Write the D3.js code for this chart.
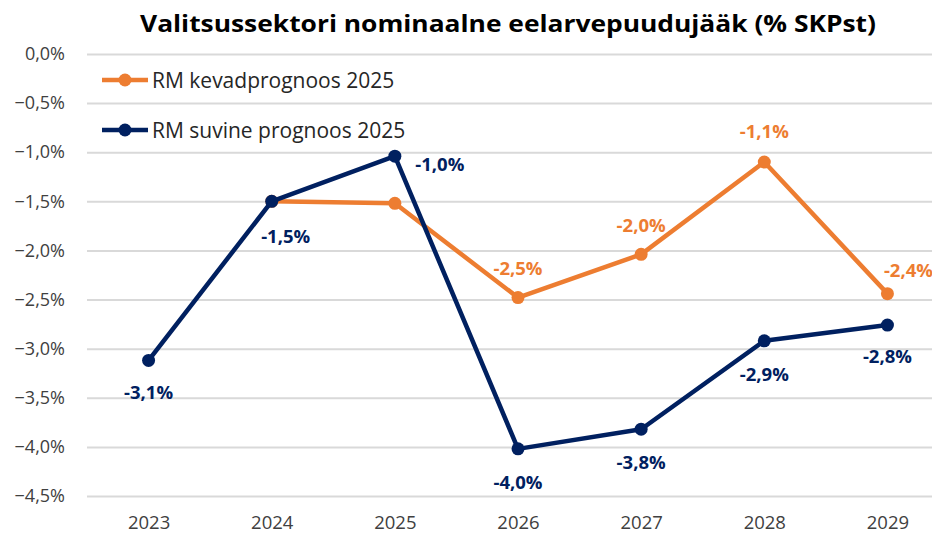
<!DOCTYPE html>
<html>
<head>
<meta charset="utf-8">
<script src="https://cdn.jsdelivr.net/npm/d3@7"></script>
<style>
  body { margin: 0; background: #fff; }
  svg { display: block; font-family: "Open Sans", "Noto Sans", sans-serif; }
</style>
</head>
<body>
<div id="chart"></div>
<script>
/* CONSTANTS AND GLOBALS */
const width = 932,
  height = 535,
  margin = { top: 54, bottom: 39, left: 87, right: -17 };

const years = [2023, 2024, 2025, 2026, 2027, 2028, 2029];
const yTicks = [0, -0.5, -1, -1.5, -2, -2.5, -3, -3.5, -4, -4.5];

// RM kevadprognoos 2025 (no 2023 value)
const spring = [null, -1.50, -1.52, -2.48, -2.04, -1.10, -2.44];
const springLabels = [null, null, null, "-2,5%", "-2,0%", "-1,1%", "-2,4%"];
// RM suvine prognoos 2025
const summer = [-3.12, -1.50, -1.04, -4.02, -3.82, -2.92, -2.76];
const summerLabels = ["-3,1%", "-1,5%", "-1,0%", "-4,0%", "-3,8%", "-2,9%", "-2,8%"];

const seriesNames = ["RM kevadprognoos 2025", "RM suvine prognoos 2025"];
const colors = ["#ED7D31", "#002060"];

const svg = d3.select("#chart")
  .append("svg")
  .attr("width", width)
  .attr("height", height);

// scales
const xScale = d3.scalePoint()
  .domain(years)
  .range([margin.left, width - margin.right])
  .padding(0.5);

const yScale = d3.scaleLinear()
  .domain([-4.5, 0])
  .range([height - margin.bottom, margin.top]);

const fmt = v => (v === 0 ? "0,0%" : d3.format(".1f")(v).replace(".", ",") + "%");

// title
svg.append("text")
  .attr("x", 508)
  .attr("y", 32)
  .attr("text-anchor", "middle")
  .attr("font-size", 24)
  .attr("font-weight", "bold")
  .attr("fill", "#000")
  .attr("textLength", 736)
  .attr("lengthAdjust", "spacingAndGlyphs")
  .text("Valitsussektori nominaalne eelarvepuudujääk (% SKPst)");

// y axis with gridlines
const yAxis = d3.axisLeft(yScale)
  .tickValues(yTicks)
  .tickSize(-(width - margin.left))
  .tickFormat(fmt);

const yAxisGroup = svg.append("g")
  .attr("transform", `translate(${margin.left},0)`)
  .call(yAxis);

yAxisGroup.select(".domain").remove();
yAxisGroup.selectAll(".tick line")
  .attr("stroke", "#d9d9d9")
  .attr("stroke-width", 2);
yAxisGroup.selectAll(".tick text")
  .attr("x", -22)
  .attr("font-size", 18)
  .attr("fill", "#404040")
  .attr("font-family", "'Open Sans', sans-serif");

// x axis
const xAxisGroup = svg.append("g")
  .attr("transform", `translate(0,${height - margin.bottom})`)
  .call(d3.axisBottom(xScale).tickSize(0));

xAxisGroup.select(".domain").remove();
xAxisGroup.selectAll(".tick text")
  .attr("y", 20)
  .attr("font-size", 18.5)
  .attr("fill", "#404040")
  .attr("font-family", "'Open Sans', sans-serif");

// lines
const seriesData = [
  years.map((y, i) => ({ year: y, value: spring[i], label: springLabels[i] })).filter(d => d.value !== null),
  years.map((y, i) => ({ year: y, value: summer[i], label: summerLabels[i] }))
];

const line = d3.line()
  .x(d => xScale(d.year))
  .y(d => yScale(d.value));

seriesData.forEach((data, s) => {
  svg.append("path")
    .datum(data)
    .attr("fill", "none")
    .attr("stroke", colors[s])
    .attr("stroke-width", 4.5)
    .attr("stroke-linejoin", "round")
    .attr("d", line);

  svg.append("g")
    .selectAll("circle")
    .data(data)
    .join("circle")
    .attr("cx", d => xScale(d.year))
    .attr("cy", d => yScale(d.value))
    .attr("r", 6.5)
    .attr("fill", colors[s]);
});

// data labels
const springOffsets = { 2026: [0, -23], 2027: [0, -22], 2028: [0, -24], 2029: [21, -17] };
svg.append("g")
  .selectAll("text")
  .data(seriesData[0].filter(d => d.label))
  .join("text")
  .attr("x", d => xScale(d.year) + springOffsets[d.year][0])
  .attr("y", d => yScale(d.value) + springOffsets[d.year][1])
  .attr("text-anchor", "middle")
  .attr("font-size", 18.5)
  .attr("font-weight", "bold")
  .attr("fill", colors[0])
  .text(d => d.label);

const summerOffsets = { 2025: [45, 15], 2023: [0, 39], 2024: [14, 42], 2026: [0, 40], 2027: [0, 40], 2028: [0, 40], 2029: [0, 38] };
svg.append("g")
  .selectAll("text")
  .data(seriesData[1])
  .join("text")
  .attr("x", d => xScale(d.year) + summerOffsets[d.year][0])
  .attr("y", d => yScale(d.value) + summerOffsets[d.year][1])
  .attr("text-anchor", "middle")
  .attr("font-size", 18.5)
  .attr("font-weight", "bold")
  .attr("fill", colors[1])
  .text(d => d.label);

// legend
const legend = svg.append("g")
  .selectAll("g")
  .data(seriesNames)
  .join("g")
  .attr("transform", (d, i) => `translate(102,${80 + i * 50})`);

legend.append("line")
  .attr("x1", 0)
  .attr("x2", 46)
  .attr("stroke", (d, i) => colors[i])
  .attr("stroke-width", 4.5);

legend.append("circle")
  .attr("cx", 23)
  .attr("r", 6.5)
  .attr("fill", (d, i) => colors[i]);

legend.append("text")
  .attr("x", 50)
  .attr("y", 7.5)
  .attr("font-size", 21)
  .attr("fill", "#262626")
  .text(d => d);
</script>
</body>
</html>
